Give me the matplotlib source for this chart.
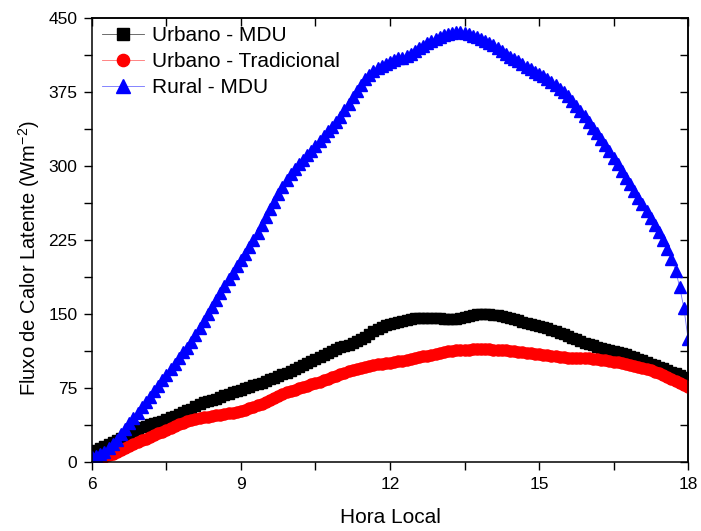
import numpy as np
import matplotlib.pyplot as plt
from matplotlib.ticker import MultipleLocator

plt.rcParams['font.family'] = ['Liberation Sans', 'DejaVu Sans']
plt.rcParams['mathtext.fontset'] = 'custom'
plt.rcParams['mathtext.rm'] = 'Liberation Sans'

# hora local, a cada 5 minutos (6h - 18h)
hora = np.arange(6 * 60, 18 * 60 + 1, 5) / 60.0

urbanoMDU = [10, 12, 14, 16, 18, 20, 22, 24, 27, 29, 31, 33,
             35, 36, 38, 39, 41, 42, 44, 46, 47, 49, 51, 53,
             54, 57, 59, 61, 62, 63, 64, 66, 68, 69, 71, 72,
             73, 75, 76, 78, 79, 80, 82, 84, 85, 87, 89, 90,
             92, 94, 96, 98, 100, 102, 104, 106, 108, 110, 112, 115,
             117, 118, 119, 121, 123, 125, 127, 130, 133, 135, 137, 139,
             140, 141, 142, 143, 144, 145, 146, 146, 146, 146, 146, 146,
             146, 145, 145, 145, 145, 146, 147, 148, 149, 150, 150, 150,
             150, 149, 149, 148, 147, 146, 145, 144, 142, 141, 140, 139,
             138, 137, 136, 134, 133, 131, 130, 128, 126, 125, 123, 121,
             120, 119, 117, 116, 115, 113, 112, 111, 110, 109, 107, 106,
             104, 103, 101, 99, 98, 96, 95, 93, 91, 90, 88, 86,
             84]

urbanoTrad = [3, 3, 4, 5, 7, 8, 10, 12, 14, 16, 18, 20,
              22, 23, 25, 27, 29, 30, 32, 34, 36, 38, 40, 42,
              43, 44, 45, 46, 46, 47, 48, 48, 49, 50, 50, 51,
              52, 53, 55, 56, 58, 59, 61, 63, 65, 67, 69, 71,
              72, 73, 75, 76, 77, 79, 80, 81, 83, 84, 86, 87,
              89, 90, 92, 93, 94, 95, 96, 97, 98, 99, 99, 100,
              100, 101, 102, 102, 103, 104, 105, 106, 107, 107, 108, 109,
              110, 111, 112, 112, 113, 113, 114, 114, 115, 115, 115, 115,
              115, 114, 114, 113, 113, 112, 112, 111, 111, 110, 110, 109,
              109, 108, 108, 107, 107, 106, 106, 105, 105, 105, 105, 105,
              105, 104, 104, 103, 103, 102, 101, 101, 100, 99, 98, 97,
              96, 95, 94, 93, 91, 90, 88, 86, 84, 82, 80, 78,
              76]

ruralMDU = [5, 6, 8, 10, 14, 18, 22, 28, 33, 39, 45, 50,
            56, 61, 66, 72, 77, 83, 88, 94, 99, 105, 111, 116,
            122, 129, 136, 143, 150, 157, 164, 171, 178, 185, 192, 199,
            205, 211, 218, 225, 232, 240, 248, 256, 264, 272, 279, 286,
            292, 297, 302, 306, 311, 315, 320, 325, 330, 335, 340, 345,
            350, 357, 363, 370, 376, 382, 388, 392, 396, 399, 401, 403,
            405, 407, 409, 410, 412, 414, 417, 420, 422, 425, 427, 429,
            431, 433, 434, 435, 436, 436, 435, 434, 432, 431, 429, 427,
            425, 423, 420, 417, 414, 411, 408, 406, 403, 400, 398, 395,
            393, 391, 388, 385, 382, 378, 375, 371, 366, 361, 356, 351,
            345, 339, 333, 327, 321, 315, 308, 302, 295, 288, 282, 275,
            268, 261, 254, 247, 240, 233, 225, 216, 206, 194, 177, 156,
            125]

fig = plt.figure(figsize=(7.01, 5.31), dpi=100)
ax = fig.add_axes([0.1312, 0.130, 0.8503, 0.836])

ax.plot(hora, urbanoMDU, color='#555555', lw=0.6, marker='s', ms=7.5,
        mfc='black', mec='black', label='Urbano - MDU')
ax.plot(hora, urbanoTrad, color='#ff7070', lw=0.6, marker='o', ms=8,
        mfc='red', mec='red', label='Urbano - Tradicional')
ax.plot(hora, ruralMDU, color='#7070ff', lw=0.6, marker='^', ms=9,
        mfc='blue', mec='blue', label='Rural - MDU')

ax.set_xlim(6, 18)
ax.set_ylim(0, 450)
ax.xaxis.set_major_locator(MultipleLocator(3))
ax.xaxis.set_minor_locator(MultipleLocator(1.5))
ax.yaxis.set_major_locator(MultipleLocator(75))
ax.yaxis.set_minor_locator(MultipleLocator(37.5))
ax.tick_params(which='both', direction='out', length=5.5, width=1, labelsize=12.5, pad=5)
for s in ax.spines.values():
    s.set_linewidth(1.1)

# ticks internos no topo e na direita
top = ax.secondary_xaxis('top')
top.xaxis.set_major_locator(MultipleLocator(1.5))
top.tick_params(direction='in', length=5.5, width=1, labeltop=False)
right = ax.secondary_yaxis('right')
right.yaxis.set_major_locator(MultipleLocator(37.5))
right.tick_params(direction='in', length=5.5, width=1, labelright=False)
top.spines['top'].set_linewidth(1.1)
right.spines['right'].set_linewidth(1.1)

ax.set_xlabel('Hora Local', fontsize=15, labelpad=12)
ax.set_ylabel('Fluxo de Calor Latente (Wm$^{\\mathrm{-2}}$)', fontsize=14.5)
ax.yaxis.set_label_coords(-0.083, 0.46)

ax.legend(loc='upper left', frameon=False, fontsize=15, handlelength=2.0,
          handletextpad=0.4, labelspacing=0.33, borderaxespad=0.1,
          bbox_to_anchor=(0.0, 1.005), markerscale=1.1)

fig.savefig('out.png', dpi=100)
